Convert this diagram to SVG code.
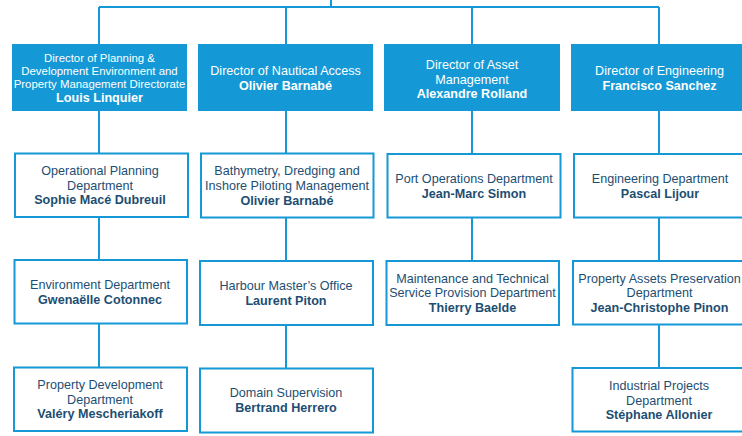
<svg xmlns="http://www.w3.org/2000/svg" width="742" height="436" viewBox="0 0 742 436">
<style>
.dir{fill:#1499d6;}
.box{fill:#ffffff;stroke:#1499d6;stroke-width:2;}
.ln{fill:none;stroke:#1499d6;stroke-width:2;}
text{font-family:"Liberation Sans",Arial,sans-serif;text-anchor:middle;font-size:12.6px;}
.w{fill:#ffffff;}
.d{fill:#1d4e72;}
.b{font-weight:bold;}
.sm{font-size:11.4px;}
</style>
<rect width="742" height="436" fill="#ffffff"/>
<g id="connectors">
<path class="ln" d="M331,0 V7 M99,7 H659 M99,7 V44 M286,7 V44 M472,7 V44 M659,7 V44"/>
<path class="ln" d="M99,110 V153 M99,217 V260 M99,324 V367"/>
<path class="ln" d="M286,110 V153 M286,218 V261 M286,325 V368"/>
<path class="ln" d="M472,110 V154 M472,218 V261"/>
<path class="ln" d="M659,110 V154 M659,218 V261 M659,325 V368"/>
</g>
<g id="dir-planning">
<rect class="dir" x="12" y="44" width="175" height="67"/>
<text class="w sm" x="99.5" y="62">Director of Planning &amp;</text>
<text class="w sm" x="99.5" y="75">Development Environment and</text>
<text class="w sm" x="99.5" y="88">Property Management Directorate</text>
<text class="w b" x="99.5" y="102">Louis Linquier</text>
</g>
<g id="dir-nautical">
<rect class="dir" x="198" y="44" width="175" height="67"/>
<text class="w" x="285.5" y="75">Director of Nautical Access</text>
<text class="w b" x="285.5" y="89.5">Olivier Barnabé</text>
</g>
<g id="dir-asset">
<rect class="dir" x="384" y="44" width="176" height="67"/>
<text class="w" x="472" y="69">Director of Asset</text>
<text class="w" x="472" y="83.5">Management</text>
<text class="w b" x="472" y="98">Alexandre Rolland</text>
</g>
<g id="dir-engineering">
<rect class="dir" x="571" y="44" width="176" height="67"/>
<text class="w" x="659.5" y="75">Director of Engineering</text>
<text class="w b" x="659.5" y="89.5">Francisco Sanchez</text>
</g>
<g id="operational-planning">
<rect class="box" x="15" y="153.5" width="173" height="63.5"/>
<text class="d" x="100" y="175">Operational Planning</text>
<text class="d" x="100" y="189.5">Department</text>
<text class="d b" x="100" y="204">Sophie Macé Dubreuil</text>
</g>
<g id="bathymetry">
<rect class="box" x="201" y="153.5" width="172.5" height="64"/>
<text class="d" x="287" y="175">Bathymetry, Dredging and</text>
<text class="d" x="287" y="190">Inshore Piloting Management</text>
<text class="d b" x="287" y="205">Olivier Barnabé</text>
</g>
<g id="port-operations">
<rect class="box" x="387.5" y="154" width="173" height="63.5"/>
<text class="d" x="474" y="183">Port Operations Department</text>
<text class="d b" x="474" y="197.5">Jean-Marc Simon</text>
</g>
<g id="engineering-dept">
<rect class="box" x="574" y="154" width="174" height="63.5"/>
<text class="d" x="660" y="183">Engineering Department</text>
<text class="d b" x="660" y="197.5">Pascal Lijour</text>
</g>
<g id="environment">
<rect class="box" x="14.5" y="260" width="172.5" height="63.5"/>
<text class="d" x="100" y="289">Environment Department</text>
<text class="d b" x="100" y="303.5">Gwenaëlle Cotonnec</text>
</g>
<g id="harbour-master">
<rect class="box" x="200" y="261" width="173" height="64"/>
<text class="d" x="286" y="289.5">Harbour Master’s Office</text>
<text class="d b" x="286" y="304.5">Laurent Piton</text>
</g>
<g id="maintenance">
<rect class="box" x="386.5" y="261" width="172.5" height="64"/>
<text class="d" x="472.5" y="282.5">Maintenance and Technical</text>
<text class="d" x="472.5" y="297">Service Provision Department</text>
<text class="d b" x="472.5" y="311.5">Thierry Baelde</text>
</g>
<g id="property-assets">
<rect class="box" x="573" y="261" width="175" height="63.5"/>
<text class="d" x="659.5" y="282.5">Property Assets Preservation</text>
<text class="d" x="659.5" y="297">Department</text>
<text class="d b" x="659.5" y="311.5">Jean-Christophe Pinon</text>
</g>
<g id="property-development">
<rect class="box" x="14" y="367.5" width="173" height="63.5"/>
<text class="d" x="100" y="389">Property Development</text>
<text class="d" x="100" y="403.5">Department</text>
<text class="d b" x="100" y="418">Valéry Mescheriakoff</text>
</g>
<g id="domain-supervision">
<rect class="box" x="200" y="368.5" width="173" height="64"/>
<text class="d" x="286" y="396.5">Domain Supervision</text>
<text class="d b" x="286" y="411.5">Bertrand Herrero</text>
</g>
<g id="industrial-projects">
<rect class="box" x="572.5" y="368" width="175" height="63.5"/>
<text class="d" x="659" y="390">Industrial Projects</text>
<text class="d" x="659" y="404.5">Department</text>
<text class="d b" x="659" y="419">Stéphane Allonier</text>
</g>
</svg>
